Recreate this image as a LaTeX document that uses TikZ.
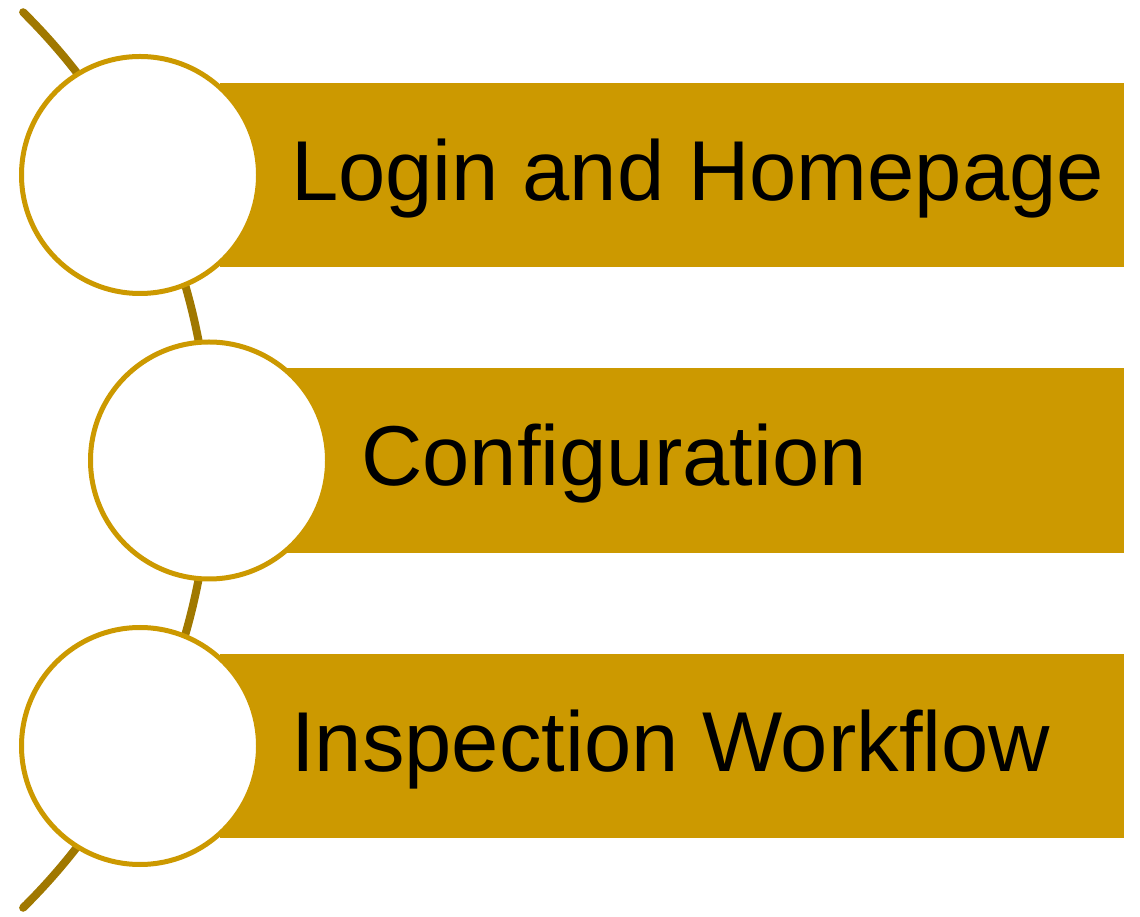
\documentclass[tikz,border=0pt]{standalone}
\usepackage{fontspec}
\setmainfont{Liberation Sans}
\usetikzlibrary{calc}
\definecolor{barGold}{HTML}{CC9900}
\definecolor{arcGold}{HTML}{A07800}
\tikzset{
  bar/.style={fill=barGold, draw=none},
  ring/.style={draw=barGold, line width=5pt, fill=white},
  label/.style={anchor=base west, inner sep=0pt, font=\fontsize{85}{100}\selectfont}
}

\begin{document}
\begin{tikzpicture}[x=1pt, y=1pt]
            \useasboundingbox (0,0) rectangle (1140,916);
            \coordinate (O) at (-420,456); \coordinate (top) at ($(O)+(45.3:630pt)$);
            \draw[arcGold, line width=8pt, line cap=round] (top) arc[start angle=45.3, end angle=-45.3, radius=630pt];
            \fill[bar] (220,649) rectangle (1124,833);
            \fill[bar] (220,363) rectangle (1124,548);
            \fill[bar] (220,78) rectangle (1124,262);
            \draw[ring] (140,741) circle (118.5);
            \draw[ring] (209,455.5) circle (118.5);
            \draw[ring] (140,170) circle (118.5);
            \node[label] (login) at (291,715.5) {Login and Homepage};
            \node[label] (config) at (361,430) {Configuration};
            \node[label] (inspect) at (291,144.5) {Inspection Workflow};
        \end{tikzpicture}
\end{document}
